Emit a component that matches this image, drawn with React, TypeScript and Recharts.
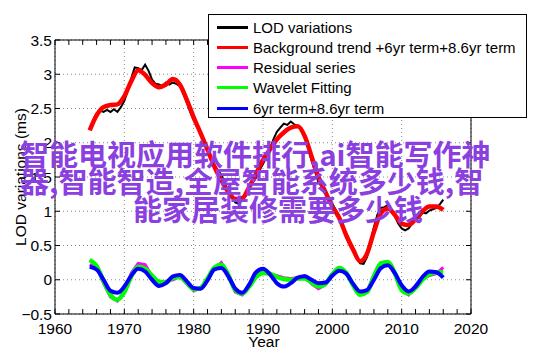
import React from "react";
import {
  LineChart,
  Line,
  XAxis,
  YAxis,
  CartesianGrid,
  ReferenceArea,
  ReferenceLine,
} from "recharts";

// yearly samples
const YEARS = [
  1965, 1966, 1967, 1968, 1969, 1970, 1971, 1972, 1973, 1974, 1975, 1976, 1977,
  1978, 1979, 1980, 1981, 1982, 1983, 1984, 1985, 1986, 1987, 1988, 1989, 1990,
  1991, 1992, 1993, 1994, 1995, 1996, 1997, 1998, 1999, 2000, 2001, 2002, 2003,
  2004, 2005, 2006, 2007, 2008, 2009, 2010, 2011, 2012, 2013, 2014, 2015, 2016,
];

const TREND = [
  2.18, 2.4, 2.52, 2.55, 2.56, 2.68, 2.9, 3.06, 2.99, 2.87, 2.81, 2.85, 2.93,
  2.85, 2.63, 2.37, 2.14, 1.9, 1.65, 1.45, 1.28, 1.18, 1.19, 1.35, 1.55, 1.75,
  1.9, 2.05, 2.15, 2.22, 2.24, 2.1, 1.8, 1.5, 1.28, 1.07, 0.9, 0.65, 0.44,
  0.27, 0.38, 0.7, 0.97, 1.04, 0.95, 0.82, 0.8, 0.88, 1.0, 1.07, 1.07, 1.02,
];

const RESIDUAL = [
  0.22, 0.18, -0.05, -0.25, -0.31, -0.17, 0.1, 0.24, 0.22, 0.05, -0.05, -0.02,
  0.0, 0.05, -0.06, -0.16, -0.12, 0.0, 0.17, 0.25, 0.07, -0.18, -0.22, -0.09,
  0.05, 0.1, 0.08, 0.06, 0.03, 0.02, 0.03, 0.06, -0.06, -0.13, -0.07, 0.07,
  0.16, 0.11, -0.07, -0.2, -0.17, 0.07, 0.25, 0.26, 0.08, -0.15, -0.22, -0.08,
  0.02, 0.06, 0.09, 0.18,
];

const WAVELET = [
  0.29, 0.2, -0.02, -0.22, -0.29, -0.18, 0.05, 0.19, 0.16, 0.06, -0.03, -0.04,
  0.03, 0.04, -0.04, -0.14, -0.12, 0.02, 0.18, 0.22, 0.07, -0.15, -0.2, -0.1,
  0.04, 0.1, 0.09, 0.04, 0.01, 0.0, 0.02, 0.02, -0.04, -0.1, -0.06, 0.08, 0.17,
  0.1, -0.08, -0.22, -0.18, 0.05, 0.24, 0.26, 0.1, -0.15, -0.2, -0.12, 0.0,
  0.08, 0.11, 0.11,
];

const CYCLES = [
  0.19, 0.15, 0.0, -0.16, -0.19, -0.1, 0.06, 0.16, 0.12, 0.0, -0.09, -0.05,
  0.05, 0.07, -0.02, -0.12, -0.13, -0.01, 0.15, 0.17, 0.05, -0.13, -0.19,
  -0.07, 0.11, 0.16, 0.08, -0.05, -0.1, -0.05, 0.03, 0.05, 0.0, -0.05, -0.04,
  0.06, 0.13, 0.09, -0.06, -0.17, -0.15, 0.0, 0.17, 0.21, 0.1, -0.08, -0.17,
  -0.1, 0.04, 0.12, 0.11, 0.03,
];

// half-year samples of the raw LOD series
const LOD_YEARS = [
  1965, 1965.5, 1966, 1966.5, 1967, 1967.5, 1968, 1968.5, 1969, 1969.5, 1970,
  1970.5, 1971, 1971.5, 1972, 1972.5, 1973, 1973.5, 1974, 1974.5, 1975, 1975.5,
  1976, 1976.5, 1977, 1977.5, 1978, 1978.5, 1979, 1979.5, 1980, 1980.5, 1981,
  1981.5, 1982, 1982.5, 1983, 1983.5, 1984, 1984.5, 1985, 1985.5, 1986, 1986.5,
  1987, 1987.5, 1988, 1988.5, 1989, 1989.5, 1990, 1990.5, 1991, 1991.5, 1992,
  1992.5, 1993, 1993.5, 1994, 1994.5, 1995, 1995.5, 1996, 1996.5, 1997, 1997.5,
  1998, 1998.5, 1999, 1999.5, 2000, 2000.5, 2001, 2001.5, 2002, 2002.5, 2003,
  2003.5, 2004, 2004.5, 2005, 2005.5, 2006, 2006.5, 2007, 2007.5, 2008, 2008.5,
  2009, 2009.5, 2010, 2010.5, 2011, 2011.5, 2012, 2012.5, 2013, 2013.5, 2014,
  2014.5, 2015, 2015.5, 2016,
];

const LOD = [
  2.21, 2.33, 2.43, 2.47, 2.45, 2.48, 2.45, 2.49, 2.45, 2.52, 2.61, 2.76, 2.94,
  3.1, 3.09, 3.06, 3.14, 3.05, 2.92, 2.86, 2.85, 2.82, 2.88, 2.85, 2.88, 2.86,
  2.83, 2.72, 2.59, 2.45, 2.33, 2.25, 2.15, 2.03, 1.91, 1.78, 1.67, 1.6, 1.53,
  1.41, 1.3, 1.2, 1.13, 1.11, 1.16, 1.22, 1.33, 1.42, 1.49, 1.6, 1.69, 1.8,
  1.9, 2.05, 2.16, 2.22, 2.28, 2.26, 2.31, 2.27, 2.24, 2.2, 2.11, 1.93, 1.74,
  1.58, 1.42, 1.36, 1.27, 1.2, 1.11, 1.02, 0.93, 0.8, 0.67, 0.55, 0.43, 0.32,
  0.24, 0.23, 0.33, 0.55, 0.77, 0.95, 1.05, 1.06, 1.09, 1.0, 0.93, 0.82, 0.75,
  0.72, 0.75, 0.82, 0.9, 0.9, 0.98, 0.97, 1.01, 1.03, 1.05, 1.1, 1.17,
];

const X_TICKS = [1960, 1970, 1980, 1990, 2000, 2010, 2020];
const X_MINOR = [
  1960, 1962, 1964, 1966, 1968, 1970, 1972, 1974, 1976, 1978, 1980, 1982, 1984,
  1986, 1988, 1990, 1992, 1994, 1996, 1998, 2000, 2002, 2004, 2006, 2008, 2010,
  2012, 2014, 2016, 2018, 2020,
];
const Y_TICKS = [-0.5, 0, 0.5, 1, 1.5, 2, 2.5, 3, 3.5];

const WATERMARK = [
  "智能电视应用软件排行,ai智能写作神",
  "器,智能智造,全屋智能系统多少钱,智",
  "能家居装修需要多少钱",
];

const SERIES = [
  { name: "LOD variations", color: "#000000" },
  { name: "Background trend +6yr term+8.6yr term", color: "#ff0000" },
  { name: "Residual series", color: "#ff00ff" },
  { name: "Wavelet Fitting", color: "#00ff00" },
  { name: "6yr term+8.6yr term", color: "#0000ff" },
];

const yearly = YEARS.map((year, i) => ({
  year,
  trend: TREND[i],
  residual: RESIDUAL[i],
  wavelet: WAVELET[i],
  cycles: CYCLES[i],
}));

const lodData = LOD_YEARS.map((year, i) => ({ year, lod: LOD[i] }));

const FONT = '"Liberation Sans", Arial, Helvetica, sans-serif';
const X_MIN = 1960;
const X_MAX = 2020;
const Y_MIN = -0.5;
const Y_MAX = 3.5;
// tick lengths in data units (about 5px)
const TICK_DY = 0.072;
const TICK_DX = 0.72;

const fmtY = (v: number) => (v < 0 ? "\u2212" + Math.abs(v) : String(v));

export default function App() {
  return (
    <div
      style={{
        position: "absolute",
        left: 0,
        top: 0,
        width: 542,
        height: 356,
        background: "#fff",
        fontFamily: FONT,
      }}
    >
      <LineChart
        width={542}
        height={356}
        data={yearly}
        margin={{ top: 40, right: 71, bottom: 0, left: 0 }}
      >
        <CartesianGrid stroke="#8a8a8a" strokeDasharray="1 3" />
        <XAxis
          dataKey="year"
          type="number"
          domain={[X_MIN, X_MAX]}
          ticks={X_TICKS}
          height={42}
          axisLine={false}
          tickLine={false}
          tickSize={0}
          tickMargin={9}
          tick={{ fill: "#000", fontSize: 15.5, fontFamily: FONT }}
          allowDataOverflow
        />
        <YAxis
          type="number"
          domain={[Y_MIN, Y_MAX]}
          ticks={Y_TICKS}
          width={55}
          axisLine={false}
          tickLine={false}
          tickSize={0}
          tickMargin={3}
          tickFormatter={fmtY}
          tick={{ fill: "#000", fontSize: 15.5, fontFamily: FONT }}
          allowDataOverflow
        />
        {X_MINOR.map((t) => (
          <ReferenceLine
            key={"xb" + t}
            segment={[
              { x: t, y: Y_MIN },
              { x: t, y: Y_MIN + TICK_DY },
            ]}
            stroke="#000"
          />
        ))}
        {X_MINOR.map((t) => (
          <ReferenceLine
            key={"xt" + t}
            segment={[
              { x: t, y: Y_MAX },
              { x: t, y: Y_MAX - TICK_DY },
            ]}
            stroke="#000"
          />
        ))}
        {Y_TICKS.map((t) => (
          <ReferenceLine
            key={"yl" + t}
            segment={[
              { x: X_MIN, y: t },
              { x: X_MIN + TICK_DX, y: t },
            ]}
            stroke="#000"
          />
        ))}
        {Y_TICKS.map((t) => (
          <ReferenceLine
            key={"yr" + t}
            segment={[
              { x: X_MAX, y: t },
              { x: X_MAX - TICK_DX, y: t },
            ]}
            stroke="#000"
          />
        ))}
        <ReferenceArea
          x1={X_MIN}
          x2={X_MAX}
          y1={Y_MIN}
          y2={Y_MAX}
          fill="none"
          fillOpacity={0}
          stroke="#000"
          strokeWidth={1}
        />
        <Line
          data={lodData}
          dataKey="lod"
          type="linear"
          stroke={SERIES[0].color}
          strokeWidth={2}
          dot={false}
          isAnimationActive={false}
        />
        <Line
          dataKey="trend"
          type="monotone"
          stroke={SERIES[1].color}
          strokeWidth={4.5}
          dot={false}
          isAnimationActive={false}
        />
        <Line
          dataKey="residual"
          type="linear"
          stroke={SERIES[2].color}
          strokeWidth={3}
          dot={false}
          isAnimationActive={false}
        />
        <Line
          dataKey="wavelet"
          type="monotone"
          stroke={SERIES[3].color}
          strokeWidth={4.5}
          dot={false}
          isAnimationActive={false}
        />
        <Line
          dataKey="cycles"
          type="monotone"
          stroke={SERIES[4].color}
          strokeWidth={4}
          dot={false}
          isAnimationActive={false}
        />
      </LineChart>

      {/* axis titles */}
      <div
        style={{
          position: "absolute",
          left: 21,
          top: 177,
          transform: "translate(-50%, -50%) rotate(-90deg)",
          whiteSpace: "nowrap",
          fontSize: 15.5,
          color: "#000",
        }}
      >
        LOD variations (ms)
      </div>
      <div
        style={{
          position: "absolute",
          left: 264,
          top: 342,
          transform: "translate(-50%, -50%)",
          whiteSpace: "nowrap",
          fontSize: 15.5,
          color: "#000",
        }}
      >
        Year
      </div>

      {/* legend */}
      <div
        style={{
          position: "absolute",
          left: 208,
          top: 14,
          width: 319,
          height: 104,
          border: "1px solid #000",
          background: "#fff",
          paddingTop: 2,
          boxSizing: "border-box",
        }}
      >
        {SERIES.map((s) => (
          <div
            key={s.name}
            style={{
              height: 20.25,
              display: "flex",
              alignItems: "center",
              fontSize: 15,
              color: "#000",
              whiteSpace: "nowrap",
            }}
          >
            <span
              style={{
                display: "inline-block",
                width: 31,
                height: 3,
                marginLeft: 8,
                marginRight: 5,
                background: s.color,
              }}
            />
            {s.name}
          </div>
        ))}
      </div>

      {/* watermark text */}
      {WATERMARK.map((line, i) => (
        <div
          key={i}
          style={{
            position: "absolute",
            left: i === 2 ? 133 : 20,
            top: [139, 166, 194][i],
            fontFamily: '"Noto Sans CJK SC", sans-serif',
            fontWeight: 700,
            fontSize: 29,
            lineHeight: "29px",
            color: "#8b3fe0",
            whiteSpace: "nowrap",
          }}
        >
          {line}
        </div>
      ))}
    </div>
  );
}
